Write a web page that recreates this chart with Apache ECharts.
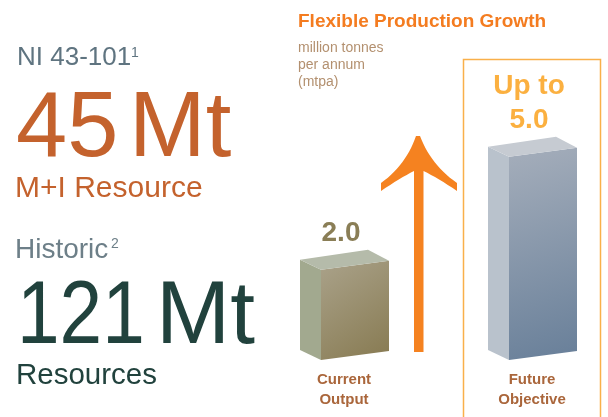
<!DOCTYPE html>
<html>
<head>
<meta charset="utf-8">
<script src="https://cdn.jsdelivr.net/npm/echarts@6/dist/echarts.min.js"></script>
<style>
html,body{margin:0;padding:0;background:#fff;}
#chart{width:608px;height:417px;}
</style>
</head>
<body>
<div id="chart"></div>
<script>
// ---- data ----
const categories = ['Current\nOutput', 'Future\nObjective'];
const values = [2.0, 5.0];
const valueLabels = ['2.0', 'Up to\n5.0'];

// ---- styles (kept separate from data) ----
const barStyles = [
  { front: ['#aaa28a', '#877a51'], side: '#a2a98f', top: '#b5bbaa', label: '#8a7e56' },
  { front: ['#a5aebb', '#687f99'], side: '#b9c2cc', top: '#c6cbd2', label: '#fbb040' }
];
const FONT = '"Liberation Sans", Arial, sans-serif';
const yMin = -0.4;

const chart = echarts.init(document.getElementById('chart'));

function renderBox(params, api) {
  const idx = api.value(0);
  const v = api.value(1);
  const base = api.coord([idx, yMin]);
  const top = api.coord([idx, v]);
  const cx = base[0];
  const fx = cx - 23, by = base[1], ty = top[1];
  const fw = 68, sw = 21;
  const st = barStyles[idx];
  return {
    type: 'group',
    children: [
      { type: 'polygon', shape: { points: [[fx - sw, ty - 10], [fx, ty], [fx, by], [fx - sw, by - 10]] },
        style: { fill: st.side } },
      { type: 'polygon', shape: { points: [[fx, ty], [fx + fw, ty - 9], [fx + fw, by - 9], [fx, by]] },
        style: { fill: new echarts.graphic.LinearGradient(0, 0, 1, 1, [
          { offset: 0, color: st.front[0] }, { offset: 1, color: st.front[1] }]) } },
      { type: 'polygon', shape: { points: [[fx - sw, ty - 10], [fx + fw - 21, ty - 20], [fx + fw, ty - 9], [fx, ty]] },
        style: { fill: st.top } },
      { type: 'text', x: cx - 3, y: ty - 19.5,
        style: { text: valueLabels[idx], fill: st.label, font: 'bold 28px ' + FONT,
          align: 'center', verticalAlign: 'bottom', lineHeight: 34 } }
    ]
  };
}

// arrow outline (decoration): quadratic curves flattened to points
function quad(p0, c, p1, n) {
  const pts = [];
  for (let i = 1; i <= n; i++) {
    const t = i / n, u = 1 - t;
    pts.push([u * u * p0[0] + 2 * u * t * c[0] + t * t * p1[0], u * u * p0[1] + 2 * u * t * c[1] + t * t * p1[1]]);
  }
  return pts;
}
const arrowPts = [[420, 136]]
  .concat([[416, 136]])
  .concat(quad([416, 136], [406, 165], [381, 183], 14))
  .concat([[381, 191]])
  .concat(quad([381, 191], [400, 178], [414, 171], 8))
  .concat([[414, 352], [423.5, 352], [423.5, 171]])
  .concat(quad([423.5, 171], [438, 178], [457, 191], 8))
  .concat([[457, 183]])
  .concat(quad([457, 183], [431, 165], [420, 136], 14));

const option = {
  animation: false,
  grid: { left: 344, right: 76, top: 119, bottom: 57, outerBoundsMode: 'none', containLabel: false },
  xAxis: {
    type: 'category', data: categories, boundaryGap: false,
    axisLine: { show: false }, axisTick: { show: false }, splitLine: { show: false },
    axisLabel: { color: '#aa663b', fontFamily: FONT, fontWeight: 'bold', fontSize: 15,
      lineHeight: 20, margin: 10, interval: 0 }
  },
  yAxis: { type: 'value', min: yMin, max: 6, show: false, splitLine: { show: false } },
  series: [{
    type: 'custom',
    renderItem: renderBox,
    data: categories.map((c, i) => [i, values[i]]),
    encode: { x: 0, y: 1 }
  }],
  graphic: [
    // left text block
    { type: 'text', x: 17, y: 58, style: { text: 'NI 43-101', font: '26px ' + FONT, fill: '#5f7480', verticalAlign: 'middle' } },
    { type: 'text', x: 131, y: 53, style: { text: '1', font: '14px ' + FONT, fill: '#5f7480', verticalAlign: 'middle' } },
    { type: 'text', x: 16, y: 131, style: { text: '45', font: '92px ' + FONT, fill: '#c4622d', verticalAlign: 'middle' } },
    { type: 'text', x: 129, y: 131, style: { text: 'Mt', font: '92px ' + FONT, fill: '#c4622d', verticalAlign: 'middle' } },
    { type: 'text', x: 15, y: 188.5, style: { text: 'M+I Resource', font: '30px ' + FONT, fill: '#c4622d', verticalAlign: 'middle' } },
    { type: 'text', x: 15, y: 250, style: { text: 'Historic', font: '28px ' + FONT, fill: '#6d7f88', verticalAlign: 'middle' } },
    { type: 'text', x: 111, y: 244, style: { text: '2', font: '14px ' + FONT, fill: '#6d7f88', verticalAlign: 'middle' } },
    { type: 'text', x: 17, y: 318.5, scaleX: 0.86, style: { text: '121', font: '89px ' + FONT, fill: '#21423d', verticalAlign: 'middle' } },
    { type: 'text', x: 156, y: 318.5, style: { text: 'Mt', font: '89px ' + FONT, fill: '#21423d', verticalAlign: 'middle' } },
    { type: 'text', x: 16, y: 376, style: { text: 'Resources', font: '29.5px ' + FONT, fill: '#21423d', verticalAlign: 'middle' } },
    // right header
    { type: 'text', x: 298, y: 21.5, style: { text: 'Flexible Production Growth', font: 'bold 19px ' + FONT, fill: '#f47c20', verticalAlign: 'middle' } },
    { type: 'text', x: 298, y: 40, style: { text: 'million tonnes\nper annum\n(mtpa)', font: '14px ' + FONT, fill: '#b3906f', verticalAlign: 'top', lineHeight: 17 } },
    // highlight box
    { type: 'rect', shape: { x: 463.5, y: 59.5, width: 137, height: 380 }, style: { fill: 'none', stroke: '#f9b04a', lineWidth: 1.5 } },
    // growth arrow
    { type: 'polygon', shape: { points: arrowPts }, style: { fill: '#f58220' } }
  ]
};
chart.setOption(option);
</script>
</body>
</html>
